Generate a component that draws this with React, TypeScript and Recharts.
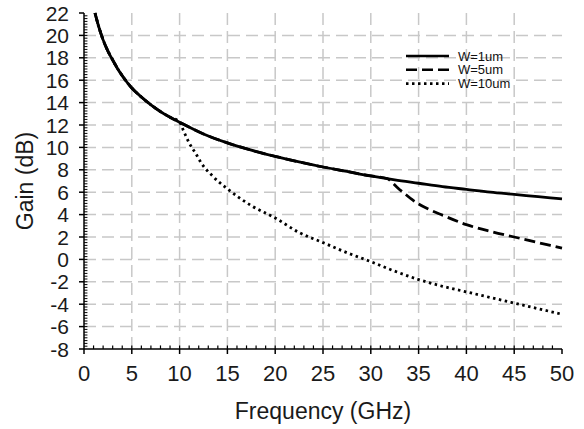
import React from 'react';
import { LineChart, Line, XAxis, YAxis, CartesianGrid, Legend, ReferenceLine } from 'recharts';

// W=1um
const freqW1 = [1.15, 1.5, 2, 2.5, 3, 3.5, 4, 5, 6, 7, 8, 9, 10, 12.5, 15, 17.5, 20, 22.5, 25, 27.5, 30, 32.5, 35, 37.5, 40, 42.5, 45, 47.5, 50];
const gainW1 = [22, 20.9, 19.6, 18.6, 17.8, 17.05, 16.4, 15.3, 14.5, 13.8, 13.2, 12.7, 12.25, 11.2, 10.4, 9.75, 9.2, 8.7, 8.25, 7.85, 7.45, 7.1, 6.8, 6.5, 6.25, 6.0, 5.8, 5.6, 5.4];

// W=5um
const freqW5 = [1.15, 1.5, 2, 2.5, 3, 3.5, 4, 5, 6, 7, 8, 9, 10, 12.5, 15, 17.5, 20, 22.5, 25, 27.5, 30, 31.7, 32.2, 32.8, 33.5, 34.3, 35, 36, 37.5, 40, 42.5, 45, 47.5, 50];
const gainW5 = [22, 20.9, 19.6, 18.6, 17.8, 17.05, 16.4, 15.3, 14.5, 13.8, 13.2, 12.7, 12.25, 11.2, 10.4, 9.75, 9.2, 8.7, 8.25, 7.85, 7.45, 7.22, 6.9, 6.4, 5.9, 5.35, 4.95, 4.5, 3.95, 3.1, 2.5, 2.0, 1.5, 1.0];

// W=10um
const freqW10 = [1.15, 1.5, 2, 2.5, 3, 3.5, 4, 5, 6, 7, 8, 9, 10, 10.4, 11, 11.8, 12.2, 13.5, 15, 17.5, 20, 22.5, 25, 27.5, 30, 32.5, 35, 37.5, 40, 42.5, 45, 47.5, 50];
const gainW10 = [22, 20.9, 19.6, 18.6, 17.8, 17.05, 16.4, 15.3, 14.5, 13.8, 13.2, 12.7, 12.25, 11.5, 10.4, 9.3, 8.7, 7.4, 6.3, 4.8, 3.7, 2.4, 1.5, 0.6, -0.2, -1.05, -1.8, -2.4, -2.9, -3.4, -3.9, -4.4, -4.9];

const legendLabels = ['W=1um', 'W=5um', 'W=10um'];
const legendDashes = [undefined, '11 5', '2.5 3.5'];

const xMajorTicks = [0, 5, 10, 15, 20, 25, 30, 35, 40, 45, 50];
const yMajorTicks = [-8, -6, -4, -2, 0, 2, 4, 6, 8, 10, 12, 14, 16, 18, 20, 22];
const xGridValues = [5, 10, 15, 20, 25, 30, 35, 40, 45];
const yGridValues = [-6, -4, -2, 0, 2, 4, 6, 8, 10, 12, 14, 16, 18, 20];
// minor (inner) tick positions: every 1 GHz and every 0.25 dB
const xMinorTicks = Array.from({ length: 49 }, (_, i) => i + 1);
const yMinorTicks = Array.from({ length: 119 }, (_, i) => -7.75 + i * 0.25);

const X_MIN = 0;
const Y_MIN = -8;
const X_MINOR_LEN = 0.32; // dB
const Y_MINOR_LEN = 0.36; // GHz

const toPoints = (f: number[], g: number[]) => f.map((x, i) => ({ freq: x, gain: g[i] }));
const dataW1 = toPoints(freqW1, gainW1);
const dataW5 = toPoints(freqW5, gainW5);
const dataW10 = toPoints(freqW10, gainW10);

const FONT = '"Liberation Sans", Arial, sans-serif';

const renderXTick = (props: any) => {
  const { x, y, payload, index } = props;
  return (
    <text key={`xt-${index}`} x={x} y={y + 27} textAnchor="middle" fontSize={22} fontFamily={FONT} fill="#1a1a1a">{payload.value}</text>
  );
};

const renderYTick = (props: any) => {
  const { x, y, payload, index } = props;
  return (
    <text key={`yt-${index}`} x={x - 10} y={y} dy="0.36em" textAnchor="end" fontSize={21} fontFamily={FONT} fill="#1a1a1a">{payload.value}</text>
  );
};

const LegendContent = () => (
  <svg width={140} height={44} style={{ display: 'block' }}>
    {legendLabels.map((label, i) => {
      const cy = 7 + i * 13.8;
      return (
        <g key={label}>
          <line x1={0} y1={cy} x2={43} y2={cy} stroke="#000" strokeWidth={2.6} strokeDasharray={legendDashes[i]} />
          <text x={52} y={cy} dy="0.35em" fontSize={13} fontFamily={FONT} fill="#111">{label}</text>
        </g>
      );
    })}
  </svg>
);

export default function App() {
  return (
    <div style={{ position: 'absolute', left: 0, top: 0, width: 584, height: 429, background: '#fff' }}>
      <LineChart width={584} height={429} margin={{ top: 13, right: 22, left: 0, bottom: 0 }}>
        <CartesianGrid
          horizontalValues={yGridValues}
          verticalValues={xGridValues}
          stroke="#c8c8c8"
          strokeWidth={1.5}
          strokeDasharray="12 6"
        />
        <XAxis
          dataKey="freq"
          type="number"
          domain={[0, 50]}
          ticks={xMajorTicks}
          interval={0}
          tickSize={5}
          tickMargin={0}
          tickLine={{ stroke: '#000', strokeWidth: 1.5 }}
          tick={renderXTick}
          axisLine={{ stroke: '#000', strokeWidth: 1.5 }}
          height={80}
          label={({ viewBox }: any) => (
            <text x={viewBox.x + viewBox.width / 2} y={viewBox.y + 70} textAnchor="middle" fontSize={23} fontFamily={FONT} fill="#1a1a1a">Frequency (GHz)</text>
          )}
        />
        <XAxis xAxisId="top" orientation="top" type="number" domain={[0, 50]} height={0} tick={false} tickLine={false} axisLine={{ stroke: '#000', strokeWidth: 1.5 }} />
        <YAxis
          type="number"
          domain={[-8, 22]}
          ticks={yMajorTicks}
          interval={0}
          tickSize={5}
          tickMargin={0}
          tickLine={{ stroke: '#000', strokeWidth: 1.5 }}
          tick={renderYTick}
          axisLine={{ stroke: '#000', strokeWidth: 1.5 }}
          width={84}
          label={({ viewBox }: any) => {
            const cx = viewBox.x + 25;
            const cy = viewBox.y + viewBox.height / 2;
            return (
              <text x={cx} y={cy} dy="0.35em" transform={`rotate(-90 ${cx} ${cy})`} textAnchor="middle" fontSize={23} fontFamily={FONT} fill="#1a1a1a">Gain (dB)</text>
            );
          }}
        />
        <YAxis yAxisId="right" orientation="right" type="number" domain={[-8, 22]} width={0} tick={false} tickLine={false} axisLine={{ stroke: '#444', strokeWidth: 1.5 }} />
        {xMinorTicks.map((v) => (
          <ReferenceLine
            key={`xm-${v}`}
            segment={[{ x: v, y: Y_MIN }, { x: v, y: Y_MIN + X_MINOR_LEN }]}
            stroke="#000"
            strokeWidth={1.2}
            ifOverflow="visible"
          />
        ))}
        {yMinorTicks.map((v) => (
          <ReferenceLine
            key={`ym-${v}`}
            segment={[{ x: X_MIN, y: v }, { x: X_MIN + Y_MINOR_LEN, y: v }]}
            stroke="#000"
            strokeWidth={1}
            ifOverflow="visible"
          />
        ))}
        <Legend
          layout="vertical"
          align="center"
          verticalAlign="middle"
          content={<LegendContent />}
          wrapperStyle={{ position: 'absolute', left: 406, top: 49, width: 140, height: 44 }}
        />
        <Line data={dataW10} dataKey="gain" name={legendLabels[2]} type="monotone" stroke="#000" strokeWidth={2.8} strokeDasharray="2.5 3.5" dot={false} isAnimationActive={false} />
        <Line data={dataW5} dataKey="gain" name={legendLabels[1]} type="monotone" stroke="#000" strokeWidth={2.8} strokeDasharray="11 5" dot={false} isAnimationActive={false} />
        <Line data={dataW1} dataKey="gain" name={legendLabels[0]} type="monotone" stroke="#000" strokeWidth={2.8} dot={false} isAnimationActive={false} />
      </LineChart>
    </div>
  );
}
